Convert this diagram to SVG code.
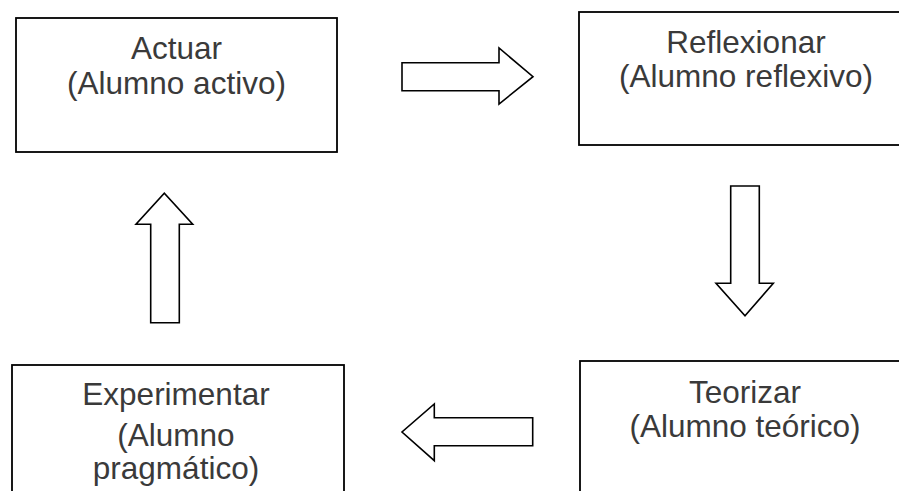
<svg xmlns="http://www.w3.org/2000/svg" width="899" height="491" viewBox="0 0 899 491">
<style>
.box{fill:#fff;stroke:#000;stroke-width:1.8}
.arr{fill:#fff;stroke:#000;stroke-width:1.6;stroke-linejoin:miter}
text{font-family:"Liberation Sans",Arial,sans-serif;font-size:31.5px;fill:#3a3a3a;text-anchor:middle}
</style>
<rect width="899" height="491" fill="#fff"/>
<g id="actuar">
<rect class="box" x="16" y="18" width="321" height="134"/>
<text x="176.5" y="59">Actuar</text>
<text x="176.5" y="94">(Alumno activo)</text>
</g>
<g id="reflexionar">
<rect class="box" x="579" y="12" width="334" height="133"/>
<text x="746" y="53">Reflexionar</text>
<text x="746" y="87">(Alumno reflexivo)</text>
</g>
<g id="teorizar">
<rect class="box" x="580" y="361" width="332" height="140"/>
<text x="745" y="403">Teorizar</text>
<text x="745" y="437">(Alumno teórico)</text>
</g>
<g id="experimentar">
<rect class="box" x="12" y="365" width="332" height="140"/>
<text x="176" y="405">Experimentar</text>
<text x="176" y="446">(Alumno</text>
<text x="176" y="479">pragmático)</text>
</g>
<g id="connectors">
<polygon class="arr" points="402,62.7 499,62.7 499,48 533,76.7 499,104 499,90.7 402,90.7"/>
<polygon class="arr" points="730.7,186 759.3,186 759.3,283.3 773.3,283.3 745,315.7 716,283.3 730.7,283.3"/>
<polygon class="arr" points="532.7,417.7 434.3,417.7 434.3,404 402,432 434.3,460.7 434.3,445.7 532.7,445.7"/>
<polygon class="arr" points="150.7,322.7 179.3,322.7 179.3,224.3 192.7,224.3 164.3,193.3 136,224.3 150.7,224.3"/>
</g>
</svg>
